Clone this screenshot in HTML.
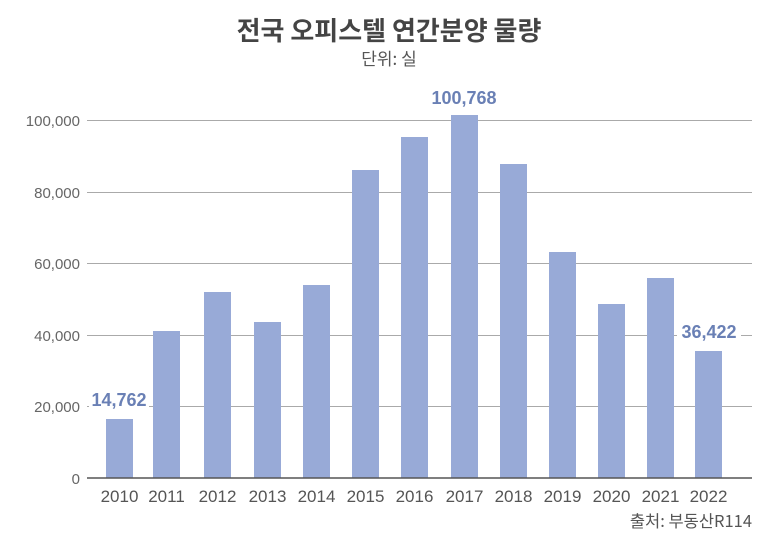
<!DOCTYPE html>
<html><head><meta charset="utf-8"><style>
body{margin:0;background:#fff;}
svg{display:block;font-family:"Liberation Sans","Noto Sans CJK KR",sans-serif;}
</style></head><body>
<svg width="778" height="535" viewBox="0 0 778 535">
<text x="389" y="40" text-anchor="middle" font-size="26" font-weight="bold" fill="#444" font-family="'Noto Sans CJK KR',sans-serif">전국 오피스텔 연간분양 물량</text>
<text x="389" y="65" text-anchor="middle" font-size="17" fill="#555" font-family="'Noto Sans CJK KR',sans-serif">단위: 실</text>
<g stroke="#aaa" stroke-width="1">
<line x1="87" x2="752" y1="120.5" y2="120.5"/>
<line x1="87" x2="752" y1="192.5" y2="192.5"/>
<line x1="87" x2="752" y1="263.5" y2="263.5"/>
<line x1="87" x2="752" y1="335.5" y2="335.5"/>
<line x1="87" x2="752" y1="406.5" y2="406.5"/>
</g>
<g font-size="15" fill="#666" text-anchor="end">
<text x="80" y="126">100,000</text>
<text x="80" y="198">80,000</text>
<text x="80" y="269">60,000</text>
<text x="80" y="341">40,000</text>
<text x="80" y="412">20,000</text>
<text x="80" y="484">0</text>
</g>
<g fill="#98aad7">
<rect x="106" y="419" width="27" height="59"/>
<rect x="153" y="331" width="27" height="147"/>
<rect x="204" y="292" width="27" height="186"/>
<rect x="254" y="322" width="27" height="156"/>
<rect x="303" y="285" width="27" height="193"/>
<rect x="352" y="170" width="27" height="308"/>
<rect x="401" y="137" width="27" height="341"/>
<rect x="451" y="115" width="27" height="363"/>
<rect x="500" y="164" width="27" height="314"/>
<rect x="549" y="252" width="27" height="226"/>
<rect x="598" y="304" width="27" height="174"/>
<rect x="647" y="278" width="27" height="200"/>
<rect x="695" y="351" width="27" height="127"/>
</g>
<line x1="87" x2="752" y1="478" y2="478" stroke="#555" stroke-width="1.5"/>
<g font-size="17" fill="#555" text-anchor="middle">
<text x="119.5" y="502">2010</text><text x="166.5" y="502">2011</text><text x="217.5" y="502">2012</text><text x="267.5" y="502">2013</text><text x="316.5" y="502">2014</text><text x="365.5" y="502">2015</text><text x="414.5" y="502">2016</text><text x="464.5" y="502">2017</text><text x="513.5" y="502">2018</text><text x="562.5" y="502">2019</text><text x="611.5" y="502">2020</text><text x="660.5" y="502">2021</text><text x="708.5" y="502">2022</text>
</g>
<g font-size="18" font-weight="bold" fill="#6a80b5" text-anchor="middle">
<rect x="89" y="389" width="60" height="22" fill="#fff"/>
<text x="119" y="406">14,762</text>
<text x="464" y="104">100,768</text>
<rect x="677" y="321" width="64" height="22" fill="#fff"/>
<text x="709" y="338">36,422</text>
</g>
<text x="752" y="527" text-anchor="end" font-size="16.5" fill="#555" font-family="'Noto Sans CJK KR',sans-serif">출처: 부동산R114</text>
</svg>
</body></html>
